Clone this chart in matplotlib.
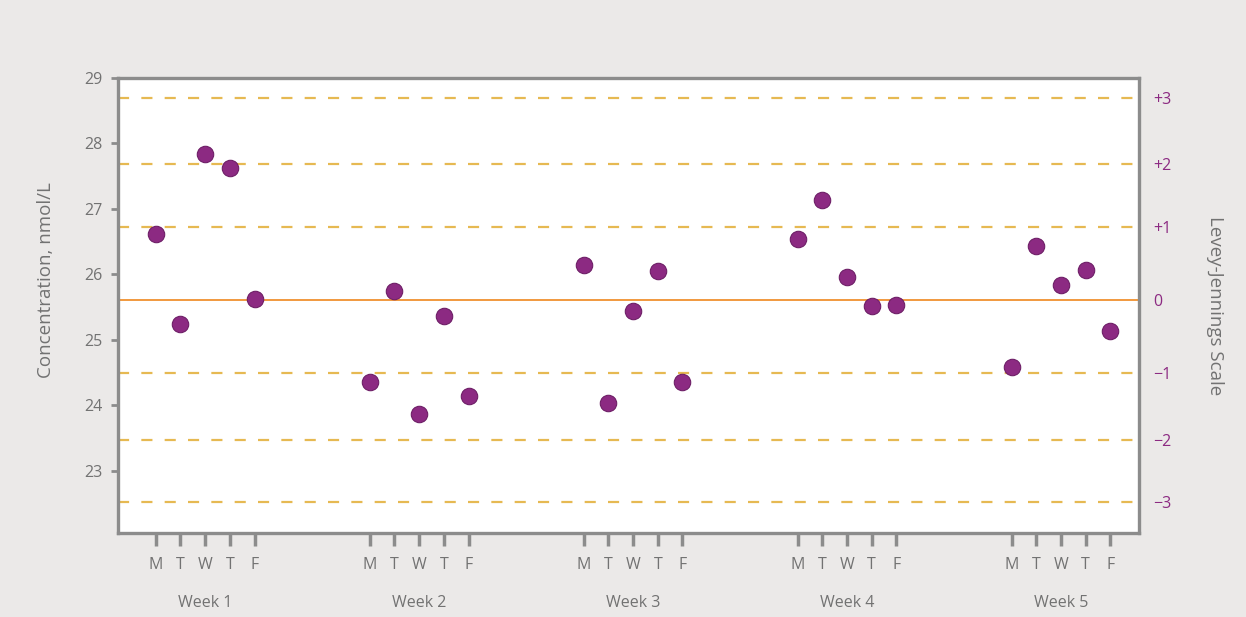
import matplotlib
matplotlib.use("Agg")
import matplotlib.pyplot as plt
import matplotlib.transforms as mtransforms
import numpy as np

plt.rcParams['font.family'] = ['Open Sans', 'DejaVu Sans']

# data
weeks = ['Week 1', 'Week 2', 'Week 3', 'Week 4', 'Week 5']
days = ['M', 'T', 'W', 'T', 'F']
week1 = [26.62, 25.25, 27.84, 27.63, 25.63]
week2 = [24.35, 25.74, 23.87, 25.37, 24.14]
week3 = [26.14, 24.04, 25.44, 26.05, 24.35]
week4 = [26.54, 27.14, 25.96, 25.51, 25.53]
week5 = [24.58, 26.44, 25.84, 26.07, 25.14]

# Levey-Jennings control levels (mean +/- 1,2,3 SD)
lj_labels = ['\u22123', '\u22122', '\u22121', '0', '+1', '+2', '+3']
lj_levels = [22.53, 23.47, 24.49, 25.61, 26.72, 27.69, 28.70]

BG = '#ebe9e8'
GRAY = '#727272'
SPINE = '#8c8c8c'
PURPLE = '#8c2a82'
DASH = '#e6b952'
MEAN = '#f0912f'

week_gap = 8.66  # spacing between the Mondays of consecutive weeks, in day units


def main():
    values = [week1, week2, week3, week4, week5]

    fig = plt.figure(figsize=(12.46, 6.17), dpi=100, facecolor=BG)
    ax = fig.add_axes([0.0947, 0.1361, 0.8194, 0.7375])
    ax.set_facecolor('white')

    xs, ys, tick_labels = [], [], []
    for w, vals in enumerate(values):
        for d, v in enumerate(vals):
            xs.append(w * week_gap + d)
            ys.append(v)
            tick_labels.append(days[d])

    # control lines
    for lab, lev in zip(lj_labels, lj_levels):
        if lab == '0':
            ax.axhline(lev, color=MEAN, linewidth=1.3, zorder=1)
        else:
            ax.axhline(lev, color=DASH, linewidth=1.6, linestyle=(0, (5, 5.5)), zorder=1)

    ax.scatter(xs, ys, s=140, color=PURPLE, edgecolor='#6e1f67', linewidth=0.8, zorder=3)

    ax.set_xlim(-1.53, 39.8)
    ax.set_ylim(22.05, 29)

    ax.set_yticks([23, 24, 25, 26, 27, 28, 29])
    ax.tick_params(axis='y', length=5, width=2, color=SPINE, labelcolor=GRAY,
                   labelsize=11.5, pad=6)
    ax.set_xticks(xs)
    ax.set_xticklabels(tick_labels)
    ax.tick_params(axis='x', length=9, width=2.5, color=SPINE, labelcolor=GRAY,
                   labelsize=11.5, pad=8)

    for sp in ax.spines.values():
        sp.set_color(SPINE)
        sp.set_linewidth(2.4)

    ax.set_ylabel('Concentration, nmol/L', color=GRAY, fontsize=13.5)
    ax.yaxis.set_label_coords(-0.062, 0.557)

    # week labels under Wednesday of each week
    trans = mtransforms.blended_transform_factory(ax.transData, ax.transAxes)
    for w, name in enumerate(weeks):
        ax.text(w * week_gap + 2, -0.153, name, transform=trans, ha='center', va='center',
                color=GRAY, fontsize=11.5)

    # right-hand Levey-Jennings scale
    ax2 = ax.twinx()
    ax2.set_ylim(ax.get_ylim())
    ax2.set_yticks(lj_levels)
    ax2.set_yticklabels(lj_labels)
    ax2.tick_params(axis='y', length=0, labelcolor=PURPLE, labelsize=11.5, pad=10)
    for sp in ax2.spines.values():
        sp.set_visible(False)
    ax2.set_ylabel('Levey-Jennings Scale', color=GRAY, fontsize=13.5, rotation=270,
                   labelpad=38)

    fig.savefig('out.png', dpi=100, facecolor=BG)


if __name__ == '__main__':
    main()
